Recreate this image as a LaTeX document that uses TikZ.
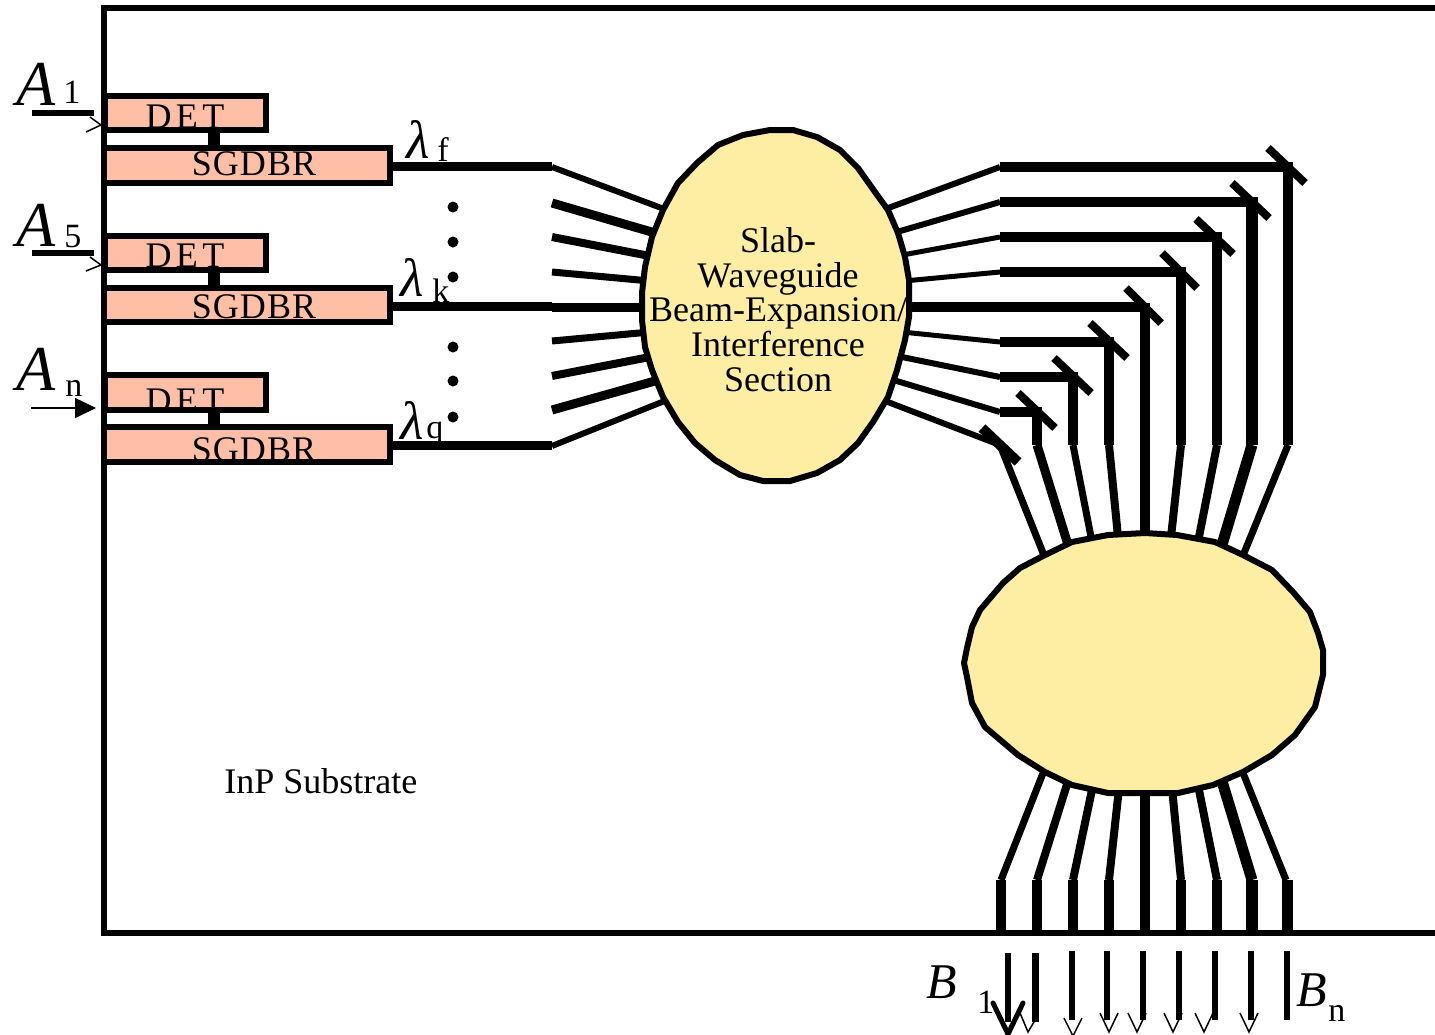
\documentclass[tikz,border=0pt]{standalone}
\usepackage{fontspec}
\setmainfont{Liberation Serif}
\usetikzlibrary{arrows.meta}
\definecolor{laser}{HTML}{FFBFA6}
\definecolor{slab}{HTML}{FDEEA3}

\begin{document}
\begin{tikzpicture}[x=0.5pt, y=-0.5pt, >=stealth,
    boxbase/.style={rectangle, inner sep=0pt, outer sep=0pt, minimum height=17.25pt},
    detfill/.style={boxbase, fill=laser, minimum width=80.5pt},
    detline/.style={boxbase, draw, line width=3pt, minimum width=80.5pt},
    sgfill/.style={boxbase, fill=laser, minimum width=143pt},
    sgline/.style={boxbase, draw, line width=3pt, minimum width=143pt},
    boxtext/.style={inner sep=0pt, anchor=base, font=\fontsize{18}{18}\selectfont},
    biglabel/.style={inner sep=0pt, anchor=base west, font=\fontsize{32}{32}\selectfont\itshape},
    midlabel/.style={inner sep=0pt, anchor=base west, font=\fontsize{27}{27}\selectfont\itshape},
    sublabel/.style={inner sep=0pt, anchor=base west, font=\fontsize{17}{17}\selectfont},
    slabline/.style={fill=slab, draw=black, line width=3pt, line join=round},
    frameline/.style={line width=2.75pt},
    thintip/.style={line width=0.75pt},
    ]
    \clip (0,0) rectangle (1435,1034);

    \draw[frameline] (1435,8) -- (104,8) -- (104,933) -- (1435,933);

    \foreach \id/\ydet/\ysg/\bdet/\bsg in {1/113/165.5/128/175, 2/253/305/267/318, 3/392.5/444.5/412/461} {
        \node[detfill] (detbg\id) at (185,\ydet) {};
        \node[sgfill] (sgbg\id) at (247,\ysg) {};
        \node[boxtext] (dettext\id) at (185,\bdet) {\addfontfeature{LetterSpace=12}DET};
        \node[boxtext] (sgtext\id) at (254,\bsg) {\addfontfeature{LetterSpace=3}SGDBR};
        \node[detline] (det\id) at (185,\ydet) {};
        \node[sgline] (sg\id) at (247,\ysg) {};
        \draw[line width=6pt] ([xshift=14.5pt]det\id.south) -- ([xshift=14.5pt]det\id.south |- sg\id.north);
    }

    \node[biglabel] (a1) at (16,105) {A};
    \node[sublabel] (a1sub) at (63,103) {1};
    \node[biglabel] (a5) at (16,246) {A};
    \node[sublabel] (a5sub) at (64,247) {5};
    \node[biglabel] (an) at (16,390) {A};
    \node[sublabel] (ansub) at (65,396) {n};

    \draw[line width=3pt] (32,113) -- (94,113);
    \draw[line width=3pt] (32,253) -- (94,253);
    \draw[thintip] (90,117) -- (101,125) -- (86,132);
    \draw[thintip] (90,257) -- (101,265) -- (86,271);
    \coordinate (anstart) at (31,408);
    \draw[-{Triangle[length=10.5pt,width=10pt]}, thintip] (anstart) -- (96,408);

    \node[midlabel] (lamf) at (406,158) {λ};
    \node[sublabel] (lamfsub) at (437,161) {f};
    \node[midlabel] (lamk) at (400,296) {λ};
    \node[sublabel] (lamksub) at (432,302) {k};
    \node[midlabel] (lamq) at (400,439) {λ};
    \node[sublabel] (lamqsub) at (426,438) {q};

    \foreach \y in {207,242,277,347,381,417}
        \fill (453,\y) circle (5.5);

    \coordinate (fanstart) at (552,0);
    \foreach \id in {1,2,3}
        \draw[line width=4.5pt] ([yshift=-0.6pt]sg\id.east) -- ([yshift=-0.6pt]sg\id.east -| fanstart);

    \foreach \ya/\xb/\yb/\w in {167/672/212/3, 203/662/235/4.5, 237/655/257/4, 272/650/281/3.5, 341/650/332/3.5, 376/655/356/4, 410/662/379/4.5, 446/672/398/3}
        \draw[line width=\w pt] (552,\ya) -- (\xb,\yb);
    \draw[line width=4.5pt] (552,307) -- (645,307);

    \foreach \xa/\ya/\yb/\xb/\wa/\wb/\wc in {880/211/167/1288/3/5/5, 890/234/202/1252/3/5/6, 897/256/237/1217/2.5/5/5, 904/281/272/1181/2.5/5/5, 902/332/342/1109/2.5/5/5, 897/356/377/1073/3/5/5, 890/379/412/1037/3/5/5} {
        \draw[line width=\wa pt] (\xa,\ya) -- (1000,\yb);
        \draw[line width=\wb pt] (1000,\yb) -- (\xb,\yb);
        \draw[line width=\wc pt] (\xb,\yb-5) -- (\xb,445);
    }
    \draw[line width=5pt] (905,307) -- (1145,307) (1145,303) -- (1145,445);
    \draw[line width=3pt] (880,399) -- (1000,445);

    \foreach \xa/\ya/\xb/\yb/\w in {1268/148/1305/183/4, 1232/183/1269/218/4, 1196/219/1233/254/4, 1162/253/1197/288/4, 1126/288/1161/323/4, 1090/323/1127/358/4, 1054/358/1091/393/4, 1018/393/1055/428/4, 982/428/1018/462/5}
        \draw[line width=\w pt] (\xa,\ya) -- (\xb,\yb);

    \foreach \xa/\xb/\yb/\w in {1000/1045/558/3.5, 1037/1069/548/4.5, 1073/1092/542/3.5, 1109/1118/537/4, 1145/1145/538/5, 1181/1171/537/4, 1217/1198/542/4, 1252/1221/548/5.5, 1288/1242/558/3.5}
        \draw[line width=\w pt] (\xa,445) -- (\xb,\yb);

    \foreach \xa/\ya/\xb/\xc/\w/\wv in {1045/768/1001/1001/3.5/5, 1069/778/1037/1037/4/5, 1093/785/1073/1073/4/5, 1119/788/1109/1109/4/5, 1145/788/1145/1145/5/5, 1172/788/1181/1181/4/5, 1198/785/1217/1217/4/5, 1221/778/1252/1252/5.5/6, 1241/768/1286/1287/3.5/5.5} {
        \draw[line width=\w pt] (\xa,\ya) -- (\xb,880);
        \draw[line width=\wv pt] (\xc,880) -- (\xc,933);
    }

    \draw[slabline] (770,130) -- (793,130) -- (817,137) -- (840,150) -- (858,168) -- (875,192)
        -- (888,210) -- (898,233) -- (905,257) -- (909,280) -- (909,317) -- (905,340) -- (897,370) -- (888,397)
        -- (873,422) -- (858,443) -- (840,460) -- (817,473) -- (790,481) -- (763,481) -- (740,475) -- (715,460)
        -- (695,443) -- (678,422) -- (663,397) -- (652,370) -- (645,347) -- (642,320) -- (642,293) -- (645,267)
        -- (652,237) -- (663,210) -- (678,183) -- (697,163) -- (718,145) -- (743,135) -- cycle;
    \draw[slabline] (1145,533) -- (1177,535) -- (1215,542) -- (1243,555) -- (1272,570) -- (1293,592)
        -- (1310,612) -- (1318,633) -- (1323,650) -- (1323,675) -- (1315,707) -- (1295,735) -- (1272,755) -- (1243,772)
        -- (1213,785) -- (1178,793) -- (1145,793) -- (1108,793) -- (1072,785) -- (1045,772) -- (1018,755) -- (985,727)
        -- (972,703) -- (967,677) -- (964,663) -- (967,648) -- (972,627) -- (980,610) -- (1003,583) -- (1020,568)
        -- (1045,555) -- (1072,542) -- (1108,535) -- cycle;

    \node[inner sep=0pt, align=center, font=\fontsize{18}{17.4}\selectfont] (slabtext) at (778,309.5)
        {Slab-\\Waveguide\\Beam-Expansion/\\Interference\\Section};
    \node[boxtext, anchor=base west] (substrate) at (224,793) {InP Substrate};

    \foreach \x/\ya/\yb/\w in {1008/953/1022/3, 1035/953/1022/3.5, 1072/951/1020/3, 1107/951/1020/3, 1143/951/1020/3, 1179/951/1020/3, 1215/951/1020/3, 1251/951/1020/3, 1287/951/1020/3.25}
        \draw[line width=\w pt] (\x,\ya) -- (\x,\yb);

    \draw[line width=2.5pt, line cap=round] (993,1003) -- (1008,1034) -- (1023,1003);
    \draw[thintip] (1020,1013) -- (1028,1032) -- (1037,1017);
    \draw[thintip] (1064,1018) -- (1073,1036) -- (1082,1018);
    \foreach \x in {1109,1137,1173,1204,1249}
        \draw[thintip] (\x-9,1013) -- (\x,1032) -- (\x+9,1013);

    \node[biglabel, font=\fontsize{25}{25}\selectfont\itshape] (b1) at (926,998) {B};
    \node[sublabel] (b1sub) at (977,1013) {1};
    \node[biglabel, font=\fontsize{25}{25}\selectfont\itshape] (bn) at (1296,1006) {B};
    \node[sublabel] (bnsub) at (1328,1021) {n};
\end{tikzpicture}
\end{document}
